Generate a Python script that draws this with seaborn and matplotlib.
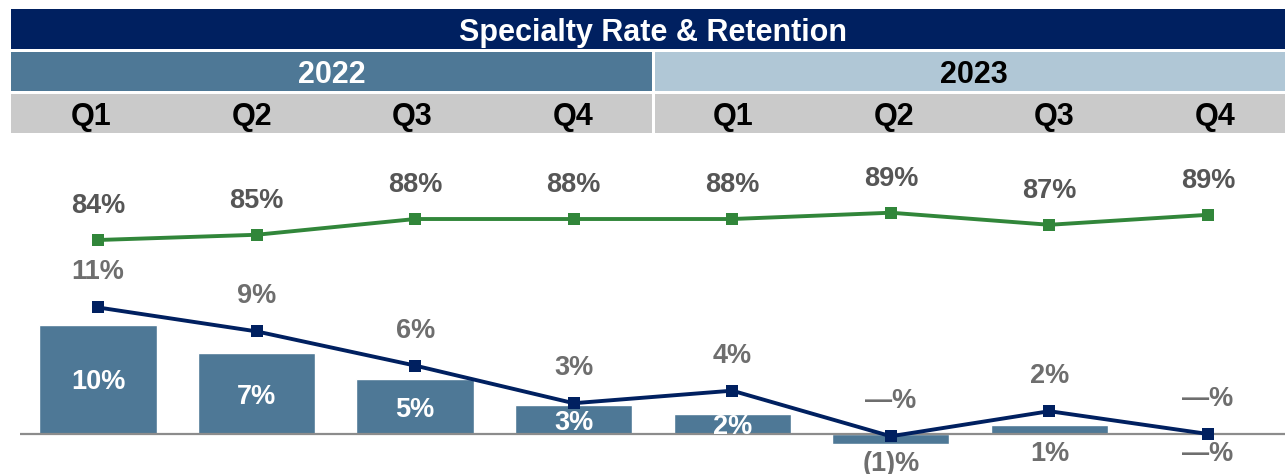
import numpy as np
import pandas as pd
import seaborn as sns
import matplotlib.pyplot as plt
from matplotlib.patches import Rectangle

# chart data
title = 'Specialty Rate & Retention'
years = ['2022', '2023']
quarters = ['Q1', 'Q2', 'Q3', 'Q4', 'Q1', 'Q2', 'Q3', 'Q4']
periods = ['2022 Q1', '2022 Q2', '2022 Q3', '2022 Q4',
           '2023 Q1', '2023 Q2', '2023 Q3', '2023 Q4']

bar_values = [9.6, 7.1, 4.8, 2.5, 1.75, -0.9, 0.8, 0.0]
bar_labels = ['10%', '7%', '5%', '3%', '2%', '(1)%', '1%', '—%']
rate_values = [11.1, 9.0, 6.0, 2.7, 3.8, -0.2, 2.0, 0.0]
rate_labels = ['11%', '9%', '6%', '3%', '4%', '—%', '2%', '—%']
retention_values = [84.0, 85.0, 88.0, 88.0, 88.0, 89.2, 86.9, 88.8]
retention_labels = ['84%', '85%', '88%', '88%', '88%', '89%', '87%', '89%']

df = pd.DataFrame({'period': periods, 'pos': np.arange(len(periods)),
                   'bar': bar_values, 'rate': rate_values,
                   'retention': retention_values})

#colours
navy = '#002060'
steel = '#4E7896'
light = '#B0C7D6'
band_gray = '#CACACA'
green = '#31863A'
lab_gray = '#6E6E6E'
lab_dark = '#565656'

sns.set_style('white')
plt.rcParams['font.family'] = ['Liberation Sans', 'DejaVu Sans']

W, H = 1285, 474
fig = plt.figure(figsize=(W / 100, H / 100), dpi=100)

# header bands
hx = fig.add_axes([11 / W, (H - 134) / H, (1295 - 11) / W, (134 - 9) / H])
hx.set_xlim(0, 8)
hx.set_ylim(134, 9)
hx.axis('off')
hx.add_patch(Rectangle((0, 9), 8, 40, color=navy, lw=0))
hx.add_patch(Rectangle((0, 52), 3.994, 39, color=steel, lw=0))
hx.add_patch(Rectangle((4.012, 52), 3.988, 39, color=light, lw=0))
hx.add_patch(Rectangle((0, 94), 3.994, 39, color=band_gray, lw=0))
hx.add_patch(Rectangle((4.012, 94), 3.988, 39, color=band_gray, lw=0))
hx.text(4, 33, title, ha='center', va='center', color='white',
        fontsize=22, fontweight='bold')
hx.text(2, 75, years[0], ha='center', va='center', color='white',
        fontsize=22, fontweight='bold')
hx.text(6, 75, years[1], ha='center', va='center', color='black',
        fontsize=22, fontweight='bold')
for i, q in enumerate(quarters):
    hx.text(i + 0.5, 117, q, ha='center', va='center', color='black',
            fontsize=22, fontweight='bold')

# main plot
ax = fig.add_axes([20 / W, 0, (W - 20) / W, (H - 140) / H])
sns.barplot(data=df, x='period', y='bar', color=steel, saturation=1,
            width=0.74, ax=ax)
sns.lineplot(data=df, x='pos', y='rate', color=navy, marker='s',
             markersize=8, markeredgewidth=0, linewidth=2.8, ax=ax)
ax.axhline(0, color='#8C8C8C', lw=1.6, zorder=1)
ax.set_xlim(-0.492, 7.486)
ax.set_ylim(-3.51, 25.79)

ax2 = ax.twinx()
sns.lineplot(data=df, x='pos', y='retention', color=green, marker='s',
             markersize=8, markeredgewidth=0, linewidth=2.8, ax=ax2)
ax2.set_ylim(39.43, 103.05)

for a in (ax, ax2):
    a.set_xticks([])
    a.set_yticks([])
    a.set_xlabel('')
    a.set_ylabel('')
    sns.despine(ax=a, left=True, bottom=True, right=True, top=True)
    a.patch.set_alpha(0)

# bar labels
for i, (v, lab) in enumerate(zip(bar_values, bar_labels)):
    if v >= 1.5:
        ax.annotate(lab, (i, v / 2), xytext=(0, -3), textcoords='offset pixels',
                    ha='center', va='center', color='white',
                    fontsize=19.5, fontweight='bold')
    else:
        ax.annotate(lab, (i, min(v, 0)), xytext=(0, -20), textcoords='offset pixels',
                    ha='center', va='center', color=lab_gray,
                    fontsize=19.5, fontweight='bold')

for i, (v, lab) in enumerate(zip(rate_values, rate_labels)):
    ax.annotate(lab, (i, v), xytext=(0, 35), textcoords='offset pixels',
                ha='center', va='center', color=lab_gray,
                fontsize=19.5, fontweight='bold')

for i, (v, lab) in enumerate(zip(retention_values, retention_labels)):
    ax2.annotate(lab, (i, v), xytext=(0, 34), textcoords='offset pixels',
                 ha='center', va='center', color=lab_dark,
                 fontsize=19.5, fontweight='bold')

fig.savefig('out.png', dpi=100)
